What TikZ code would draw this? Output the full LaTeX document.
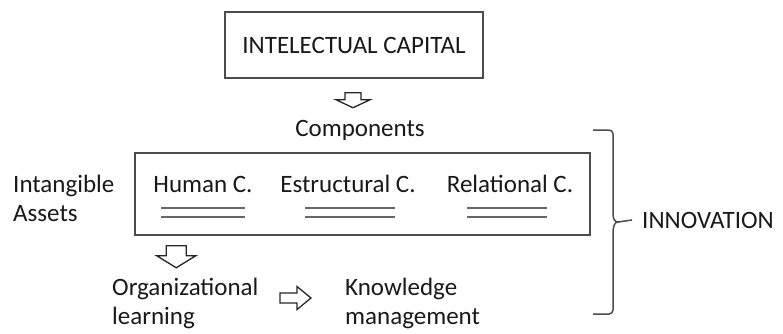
\documentclass[tikz,border=0pt]{standalone}
\usepackage{fontspec}
\setmainfont{Carlito}
\usetikzlibrary{positioning,calc}

\tikzset{
  txt/.style={font=\fontsize{25}{29}\selectfont, text=black!90, inner sep=0pt},
  frame/.style={draw=black!70, line width=1.5pt},
  uline/.style={draw=black!60, line width=2pt},
  hollow/.style={draw=black!85, line width=1.3pt, fill=white, line join=miter},
  % block arrow pointing down: stem half width, head half width, stem length, head length
  pics/blockarr/.style n args={4}{code={
    \draw[hollow] (-#1,0) -- (-#1,#3) -- (-#2,#3) -- (0,#3+#4) -- (#2,#3) -- (#1,#3) -- (#1,0) -- cycle;
  }},
}

\begin{document}
\begin{tikzpicture}[x=1pt, y=-1pt]
\useasboundingbox (0,0) rectangle (783,333);

% top box
\node[frame, txt, minimum width=258pt, minimum height=66pt] (title) at (354,45) {INTELECTUAL CAPITAL};
\node[txt, anchor=base] (comp) at (360,136) {Components};
\pic at ($(title.south)+(-1,14)$) {blockarr={8}{17}{7}{8}};

% components box
\node[frame, minimum width=455pt, minimum height=82pt] (mid) at (362.5,194) {};
\node[txt, anchor=base west, align=left] (assets) at (13,221) {Intangible\\Assets};
\node[txt, anchor=base] (human) at (203,192) {Human C.};
\node[txt, anchor=base] (estr) at (348,192) {Estructural C.};
\node[txt, anchor=base] (rel) at (510,192) {Relational C.};
\foreach \n/\w/\dx in {human/42/0, estr/45/2, rel/40/-3} {
    \draw[uline] ($(\n.base)+(-\w+\dx,16)$) -- ($(\n.base)+(\w+\dx,16)$);
    \draw[uline] ($(\n.base)+(-\w+\dx,25)$) -- ($(\n.base)+(\w+\dx,25)$);
}
\pic at ($(mid.south west)+(42,10)$) {blockarr={10}{19.5}{10}{12}};

% bottom row
\node[txt, anchor=base west, align=left] (org) at (112,324) {Organizational\\learning};
\node[txt, anchor=base west, align=left] (know) at (345,324) {Knowledge\\management};
\pic[rotate=90] at (280,298) {blockarr={5}{11.5}{17}{14}};

% brace
\coordinate (tip) at (618,222);
\node[txt, anchor=base west] (innov) at (642,228) {INNOVATION};
\draw[draw=black!70, line width=1.5pt, rounded corners=4pt]
  (593,130) -- (613,130) -- (613,210) [sharp corners] .. controls (613,219) and (615,222) .. (tip)
  .. controls (615,222) and (613,225) .. (613,234) [rounded corners=4pt] -- (613,314) -- (593,314);
\draw[draw=black!70, line width=1.5pt] (tip) -- (innov.west -| 632,0);
\end{tikzpicture}
\end{document}
